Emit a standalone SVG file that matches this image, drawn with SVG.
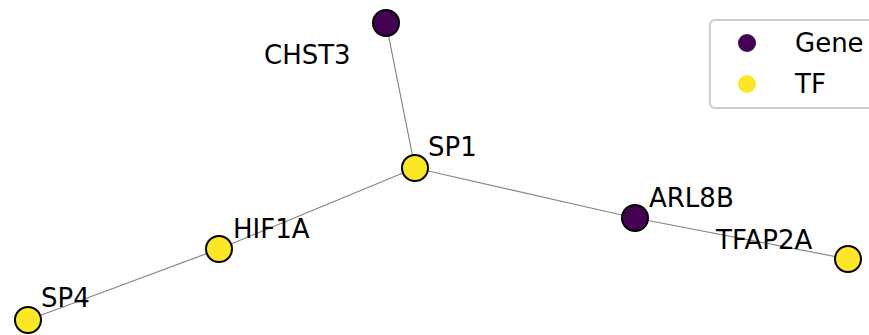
<svg xmlns="http://www.w3.org/2000/svg" width="869" height="335" viewBox="0 0 869 335">
  <style>
    .edge { stroke: #888888; stroke-width: 1.2; fill: none; }
    .node { stroke: #000000; stroke-width: 2; }
    .gene { fill: #440154; }
    .tf { fill: #fde725; }
    .label { font-family: "DejaVu Sans", sans-serif; font-size: 26px; fill: #000000; }
  </style>
  <rect width="869" height="335" fill="#ffffff"/>
  <g id="edges">
    <line class="edge" x1="386" y1="23" x2="415" y2="168"/>
    <line class="edge" x1="415" y1="168" x2="635" y2="218"/>
    <line class="edge" x1="635" y1="218" x2="848" y2="259"/>
    <line class="edge" x1="415" y1="168" x2="219" y2="249"/>
    <line class="edge" x1="219" y1="249" x2="28" y2="320"/>
  </g>
  <g id="CHST3"><circle class="node gene" cx="386" cy="23" r="13"/><text class="label" x="264" y="64">CHST3</text></g>
  <g id="SP1"><circle class="node tf" cx="415" cy="168" r="13"/><text class="label" x="428" y="156">SP1</text></g>
  <g id="ARL8B"><circle class="node gene" cx="635" cy="218" r="13"/><text class="label" x="649" y="207">ARL8B</text></g>
  <g id="TFAP2A"><circle class="node tf" cx="848" cy="259" r="13"/><text class="label" x="716" y="249">TFAP2A</text></g>
  <g id="HIF1A"><circle class="node tf" cx="219" cy="249" r="13"/><text class="label" x="233" y="238">HIF1A</text></g>
  <g id="SP4"><circle class="node tf" cx="28" cy="320" r="13"/><text class="label" x="41" y="307">SP4</text></g>
  <g id="legend">
    <rect x="710" y="20" width="175" height="88" rx="5" fill="#ffffff" fill-opacity="0.8" stroke="#cccccc" stroke-width="2"/>
    <circle class="gene" cx="747" cy="43" r="9"/>
    <text class="label" x="795" y="52">Gene</text>
    <circle class="tf" cx="747" cy="84" r="9"/>
    <text class="label" x="795" y="93">TF</text>
  </g>
</svg>
